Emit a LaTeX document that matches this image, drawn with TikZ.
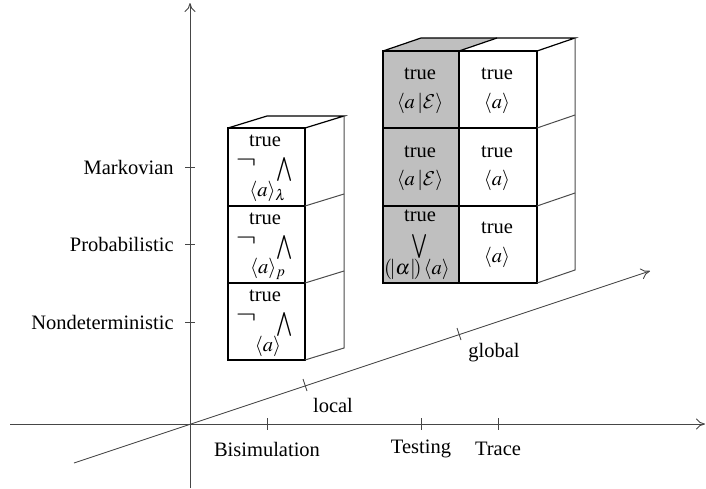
\documentclass[tikz,border=0pt]{standalone}
\usepackage{mathptmx}
\usepackage{fontspec}
\setmainfont{Liberation Serif}
\usetikzlibrary{arrows.meta}
\DeclareMathAlphabet{\mathcal}{OMS}{cmsy}{m}{n}
\definecolor{boxgray}{RGB}{191,191,191}
\definecolor{axisgray}{RGB}{70,70,70}
\newcommand{\bigand}{\scalebox{1.05}[1.3]{$\bigwedge$}}
\newcommand{\bigor}{\scalebox{1.05}[1.3]{$\bigvee$}}
\newcommand{\bigneg}{\scalebox{1.5}[1.3]{$\neg$}}
\begin{document}
\begin{tikzpicture}[x=0.5pt,y=-0.5pt,
  every node/.style={font=\fontsize{10.25}{12}\selectfont, inner sep=0pt},
  axis/.style={draw=axisgray, line width=0.45pt, -{To[length=4.5pt,width=5.5pt]}},
  tick/.style={draw=axisgray, line width=0.45pt},
  boxline/.style={draw=black, line width=0.6pt, line join=miter},
  sideline/.style={draw=black!70, line width=0.5pt}]
\useasboundingbox (0,0) rectangle (706,488);

% ---- axes ----
\coordinate (ybot) at (190,488);
\coordinate (ytop) at (190,3);
\coordinate (xleft) at (10,424);
\coordinate (xright) at (705,424);
\coordinate (dlow) at (74,463);
\coordinate (dhigh) at (650,271);
\draw[axis] (ybot) -- (ytop);
\draw[axis] (xleft) -- (xright);
\draw[axis] (dlow) -- (dhigh);

% y ticks and labels
\foreach \y/\n/\t in {167/mark/Markovian,244/prob/Probabilistic,322/nond/Nondeterministic}{
  \draw[tick] (185,\y) -- (195,\y);
  \node[anchor=east] (\n) at (174,\y) {\t};
}
% x ticks and labels
\foreach \x/\n/\t in {267/bisim/Bisimulation,421/test/Testing,498/trace/Trace}{
  \draw[tick] (\x,418) -- (\x,430);
  \node (\n) at (\x,449) {\t};
}
% diagonal ticks
\draw[tick] (303,379) -- (307,391);
\draw[tick] (457,328) -- (461,340);
\node (local) at (333,405) {local};
\node (global) at (494,353) {global};

% ---- left stack ----
\fill[white] (228,128) -- (267,116) -- (344,116) -- (344,348) -- (305,360) -- (228,360) -- cycle;
\draw[boxline] (228,128) rectangle (305,360);
\draw[boxline] (228,206) -- (305,206);
\draw[boxline] (228,283) -- (305,283);
\draw[boxline] (228,128) -- (267,116) -- (344,116) -- (305,128);
\draw[sideline] (344,116) -- (344,348) -- (305,360);
\draw[sideline] (305,206) -- (344,194);
\draw[sideline] (305,283) -- (344,271);

\foreach \t/\sub/\n in {128/_\lambda/a, 206/_p/b, 283//c}{
  \node (L\n true) at (265,\t+13) {true};
  \node (L\n neg) at (246,\t+35) {\bigneg};
  \node (L\n and) at (285,\t+41) {\bigand};
  \node (L\n dia) at (268,\t+63) {$\langle a\rangle\sub$};
}

% ---- right stack ----
\fill[boxgray] (383,51) -- (421,38) -- (497,38) -- (459,51) -- (459,283) -- (383,283) -- cycle;
\fill[white] (459,51) -- (497,38) -- (575,38) -- (575,270) -- (537,283) -- (459,283) -- cycle;
\draw[boxline] (383,51) rectangle (537,283);
\draw[boxline] (459,51) -- (459,283);
\draw[boxline] (383,128) -- (537,128);
\draw[boxline] (383,206) -- (537,206);
\draw[boxline] (383,51) -- (421,38) -- (575,38) -- (537,51);
\draw[boxline] (459,51) -- (497,38);
\draw[sideline] (575,38) -- (575,270) -- (537,283);
\draw[sideline] (537,128) -- (575,115);
\draw[sideline] (537,206) -- (575,193);

% gray column texts
\node (G1true) at (420,74) {true};
\node (G1dia) at (420,103) {$\langle a\,|\mathcal{E}\rangle$};
\node (G2true) at (420,152) {true};
\node (G2dia) at (420,180) {$\langle a\,|\mathcal{E}\rangle$};
\node (G3true) at (420,216) {true};
\node (G3or) at (420,246) {\bigor};
\node (G3dia) at (417,269) {$(\!|\alpha|\!)\,\langle a\rangle$};
% white column texts
\node (W1true) at (497,74) {true};
\node (W1dia) at (497,103) {$\langle a\rangle$};
\node (W2true) at (497,152) {true};
\node (W2dia) at (497,180) {$\langle a\rangle$};
\node (W3true) at (497,228) {true};
\node (W3dia) at (497,257) {$\langle a\rangle$};
\end{tikzpicture}
\end{document}
